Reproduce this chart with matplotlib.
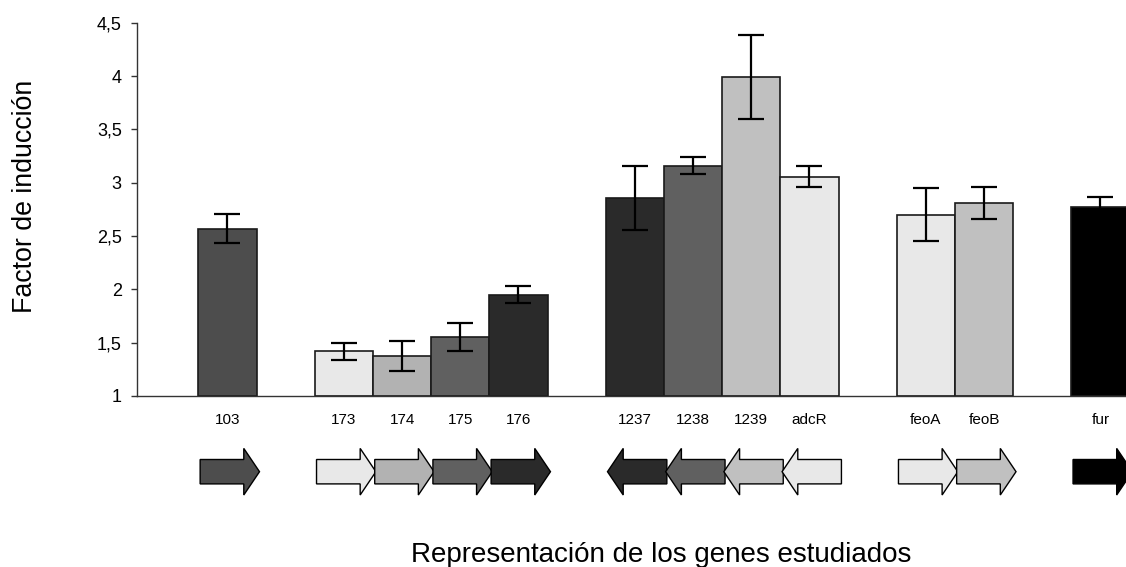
import matplotlib
matplotlib.use("Agg")
import matplotlib.pyplot as plt
from matplotlib.patches import Polygon
from matplotlib.ticker import FuncFormatter, MultipleLocator

plt.rcParams['font.family'] = ['Liberation Sans', 'DejaVu Sans']

# ---- data ----
genes = ['103', '173', '174', '175', '176', '1237', '1238', '1239', 'adcR', 'feoA', 'feoB', 'fur']
values = [2.57, 1.42, 1.375, 1.55, 1.95, 2.855, 3.16, 3.99, 3.055, 2.70, 2.81, 2.775]
errors = [0.135, 0.08, 0.137, 0.13, 0.08, 0.30, 0.08, 0.39, 0.10, 0.25, 0.15, 0.09]
directions = [1, 1, 1, 1, 1, -1, -1, -1, -1, 1, 1, 1]   # gene orientation
ylabel = 'Factor de inducción'
xlabel = 'Representación de los genes estudiados'

# ---- layout / style ----
slots = [0, 2, 3, 4, 5, 7, 8, 9, 10, 12, 13, 15]
colors = ['#4d4d4d', '#e8e8e8', '#b2b2b2', '#606060', '#2a2a2a',
          '#2a2a2a', '#606060', '#c0c0c0', '#e8e8e8',
          '#e8e8e8', '#c0c0c0', '#000000']

W, H = 1126, 567
fig = plt.figure(figsize=(W / 100, H / 100), dpi=100)

ax_left, ax_right = 137, 1126
ax_top, ax_bot = 22.7, 396
ax = fig.add_axes([ax_left / W, 1 - ax_bot / H, (ax_right - ax_left) / W, (ax_bot - ax_top) / H])

ax.bar(slots, [v - 1 for v in values], bottom=1, width=1.0, color=colors,
       edgecolor='#1a1a1a', linewidth=1.2, zorder=2)
ax.errorbar(slots, values, yerr=errors, fmt='none', ecolor='black',
            elinewidth=1.6, capsize=9.7, capthick=1.6, zorder=3)

XLIM = (-1.555, 15.44)
ax.set_xlim(*XLIM)
ax.set_ylim(1, 4.5)
ax.yaxis.set_major_locator(MultipleLocator(0.5))
ax.yaxis.set_major_formatter(FuncFormatter(lambda v, p: ('%g' % v).replace('.', ',')))
ax.tick_params(axis='y', length=4, width=1, color='#333333', labelsize=13, pad=7)
ax.set_xticks([])
for s in ['top', 'right']:
    ax.spines[s].set_visible(False)
for s in ['left', 'bottom']:
    ax.spines[s].set_color('#333333')
    ax.spines[s].set_linewidth(1.0)

# ---- gene arrow row ----
ar_top, ar_bot = 400, 520
ax2 = fig.add_axes([ax_left / W, 1 - ar_bot / H, (ax_right - ax_left) / W, (ar_bot - ar_top) / H])
ax2.set_xlim(*XLIM)
ax2.set_ylim(ar_bot - ar_top, 0)
ax2.axis('off')

yc = 71.7
body = 12.2
head_h = 23.3
head_l = 0.27
a_start, a_end = -0.47, 0.55
for s, c, d, g in zip(slots, colors, directions, genes):
    x0, x1 = s + a_start, s + a_end
    if d > 0:
        tail, tip = x0, x1
        hb = tip - head_l
    else:
        tail, tip = x1, x0
        hb = tip + head_l
    pts = [(tail, yc - body), (hb, yc - body), (hb, yc - head_h), (tip, yc),
           (hb, yc + head_h), (hb, yc + body), (tail, yc + body)]
    ax2.add_patch(Polygon(pts, closed=True, facecolor=c, edgecolor='black', linewidth=1.0))
    ax2.text(s, 20, g, ha='center', va='center', fontsize=11)

fig.text(31.7 / W, 1 - 313 / H, ylabel, rotation=90, rotation_mode='anchor',
         ha='left', va='baseline', fontsize=19.3)
fig.text(661 / W, 1 - 561.7 / H, xlabel, ha='center', va='baseline', fontsize=20)

fig.savefig('out.png', dpi=100)
